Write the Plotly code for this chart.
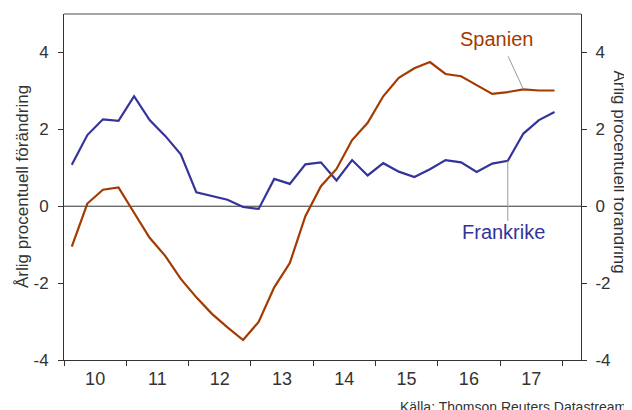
import plotly.graph_objects as go

# Quarterly data 2010Q1 - 2017Q4
years = [2010, 2011, 2012, 2013, 2014, 2015, 2016, 2017]
quarters = [1, 2, 3, 4]
x_vals = [y + (q - 0.5) / 4 for y in years for q in quarters]

frankrike = [1.08, 1.85, 2.26, 2.22, 2.86, 2.24, 1.83, 1.35,
             0.36, 0.26, 0.17, -0.02, -0.07, 0.71, 0.58, 1.09,
             1.14, 0.67, 1.20, 0.80, 1.12, 0.90, 0.76, 0.96,
             1.20, 1.14, 0.89, 1.11, 1.18, 1.89, 2.24, 2.45]
spanien = [-1.05, 0.07, 0.43, 0.49, -0.17, -0.82, -1.29, -1.89,
           -2.37, -2.80, -3.15, -3.48, -3.01, -2.11, -1.48, -0.26,
           0.52, 0.97, 1.72, 2.17, 2.86, 3.34, 3.59, 3.75,
           3.44, 3.38, 3.15, 2.92, 2.97, 3.04, 3.01, 3.01]

year_labels = ["10", "11", "12", "13", "14", "15", "16", "17"]
y_ticks = [-4, -2, 0, 2, 4]
y_ticktext = ["-4", "-2", "0", "2", "4"]

FONT = "Liberation Sans, Arial, sans-serif"
TXT = "#333333"
ORANGE = "#A33B00"
BLUE = "#333399"

fig = go.Figure()
fig.add_trace(go.Scatter(x=x_vals, y=frankrike, mode="lines", name="Frankrike",
                         line=dict(color=BLUE, width=2.2), yaxis="y"))
fig.add_trace(go.Scatter(x=x_vals, y=spanien, mode="lines", name="Spanien",
                         line=dict(color=ORANGE, width=2.2), yaxis="y2"))

axis_common = dict(range=[-4, 5], tickvals=y_ticks, ticktext=y_ticktext,
                   ticks="outside", ticklen=5,
                   tickcolor="#333333", showgrid=False, zeroline=False,
                   showline=True, linecolor="#333333", linewidth=1,
                   tickfont=dict(family=FONT, size=17, color=TXT))

# page body has an 8px margin, so the figure is 8px smaller than the window
fig.update_layout(
    width=624, height=402,
    margin=dict(l=56, r=51, t=6, b=50),
    paper_bgcolor="white", plot_bgcolor="white",
    showlegend=False,
    xaxis=dict(range=[2010, 2018.3], tickvals=[y + 0.5 for y in years],
               ticktext=year_labels, ticks="", showgrid=False, zeroline=False,
               showline=True, linecolor="#333333", linewidth=1,
               tickfont=dict(family=FONT, size=18, color=TXT),
               ticklabelstandoff=2,
               minor=dict(tickvals=years + [2018], ticks="outside", ticklen=5,
                          tickcolor="#333333", showgrid=False)),
    yaxis=dict(**axis_common, side="left", ticklabelstandoff=6),
    yaxis2=dict(**axis_common, side="right", overlaying="y", ticklabelstandoff=5),
)

# zero line
fig.add_shape(type="line", xref="paper", x0=0, x1=1, yref="y", y0=0, y1=0,
              line=dict(color="#333333", width=1), layer="below")
# top frame line (gray)
fig.add_shape(type="line", xref="paper", x0=0, x1=1, yref="paper", y0=1, y1=1,
              line=dict(color="#888888", width=1.5))

# leader lines
fig.add_shape(type="line", xref="x", yref="y", x0=2017.13, y0=3.90,
              x1=x_vals[29], y1=spanien[29], line=dict(color="#999999", width=1))
fig.add_shape(type="line", xref="x", yref="y", x0=x_vals[28], y0=frankrike[28],
              x1=x_vals[28], y1=-0.38, line=dict(color="#999999", width=1))

fig.add_annotation(x=2016.95, y=4.36, xref="x", yref="y", text="Spanien",
                   showarrow=False, font=dict(family=FONT, size=20, color=ORANGE))
fig.add_annotation(x=2017.05, y=-0.68, xref="x", yref="y", text="Frankrike",
                   showarrow=False, font=dict(family=FONT, size=20, color=BLUE))

# axis titles and source (positions in window pixels, converted to paper)
fig.add_annotation(x=22, y=187, xref="paper", yref="paper", text="Årlig procentuell förändring",
                   showarrow=False, textangle=-90, xanchor="center", yanchor="middle",
                   font=dict(family=FONT, size=17, color=TXT))
fig.add_annotation(x=630, y=172, xref="paper", yref="paper", text="Årlig procentuell förändring",
                   showarrow=False, textangle=90,
                   font=dict(family=FONT, size=17, color=TXT))
fig.add_annotation(x=398, y=397, xref="paper", yref="paper",
                   text="Källa: Thomson Reuters Datastream", showarrow=False,
                   xanchor="left", yanchor="top",
                   font=dict(family=FONT, size=14, color=TXT))

pw, ph = 517, 346
for ann in fig.layout.annotations:
    if ann.xref == "paper":
        ann.x = (ann.x - 64) / pw
        ann.y = 1 - (ann.y - 14) / ph

fig.write_html("out.html")
